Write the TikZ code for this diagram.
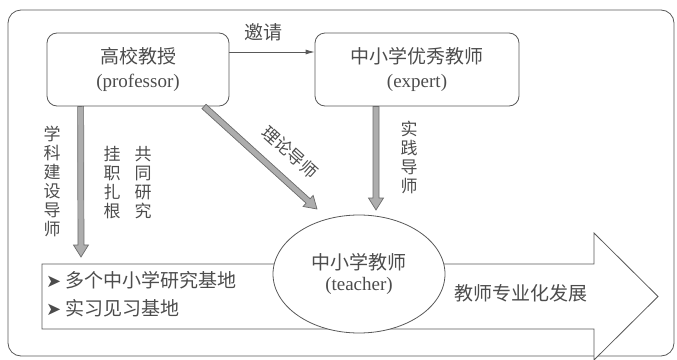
\documentclass[tikz,border=0pt]{standalone}
\usepackage{fontspec}
\setmainfont{Liberation Serif}
\newfontfamily\cjk{Noto Sans CJK SC}
\newfontfamily\symf{DejaVu Sans}
\usetikzlibrary{calc,shapes.geometric,arrows.meta}
\definecolor{txt}{gray}{0.3}
\definecolor{ln}{gray}{0.35}
\definecolor{gfill}{gray}{0.68}
\definecolor{gline}{gray}{0.42}
\tikzset{
  box/.style={draw=ln, line width=0.8pt, rounded corners=10pt, minimum width=#1,
    minimum height=73pt, align=center, text=txt, inner sep=0pt,
    font=\fontsize{19}{24}\selectfont},
  vtext/.style={text=txt, align=center, inner sep=0pt, font=\cjk\fontsize{17}{19}\selectfont},
  htext/.style={text=txt, inner sep=0pt, font=\cjk\fontsize{19}{23}\selectfont},
  thinline/.style={draw=ln, line width=0.8pt},
  garrowstyle/.style={fill=gfill, draw=gline, line width=0.7pt, line join=miter},
}
\newcommand\garrow[2]{%
  \coordinate (ga-h) at ($(#2)!12pt!(#1)$);
  \filldraw[garrowstyle] ($(#1)!3pt!90:(#2)$) -- ($(ga-h)!3pt!-90:(#1)$)
    -- ($(ga-h)!7.5pt!-90:(#1)$) -- (#2) -- ($(ga-h)!7.5pt!90:(#1)$)
    -- ($(ga-h)!3pt!90:(#1)$) -- ($(#1)!3pt!-90:(#2)$) -- cycle;
}
\begin{document}
\begin{tikzpicture}[x=1pt,y=-1pt]
\useasboundingbox (0,0) rectangle (677,359);
% outer frame
\draw[thinline, rounded corners=13pt] (8,10) rectangle (674,356);
% big arrow
\coordinate (bA) at (42,264);
\coordinate (bB) at (594,264);
\coordinate (bC) at (594,233);
\coordinate (bTip) at (658,296.5);
\coordinate (bD) at (594,360);
\coordinate (bE) at (594,329);
\coordinate (bF) at (42,329);
\draw[thinline, fill=white, line join=miter] (bA) -- (bB) -- (bC) -- (bTip) -- (bD) -- (bE) -- (bF) -- cycle;
% ellipse
\node[ellipse, draw=ln, line width=0.8pt, fill=white, minimum width=172pt, minimum height=118pt,
  inner sep=0pt, align=center, text=txt, font=\fontsize{19}{22}\selectfont] (teacher) at (359,274)
  {\cjk 中小学教师\\[-1pt]\rmfamily (teacher)};
% boxes
\node[box=182pt] (prof) at (138,69.5) {\cjk 高校教授\\\rmfamily (professor)};
\node[box=204pt] (expert) at (417,69.5) {\cjk 中小学优秀教师\\\rmfamily (expert)};
% invite arrow
\coordinate (inv) at (0,52);
\draw[thinline, -{Latex[length=9pt,width=5pt]}] (prof.east |- inv) -- (expert.west |- inv);
\node[htext] (invlab) at (263,32) {邀请};
% gray arrows
\coordinate (p1) at ($(prof.south west)+(34,0)$);
\coordinate (p1e) at (81,257);
\garrow{p1}{p1e}
\coordinate (p2) at (204,106.5);
\coordinate (p2e) at (317,209);
\garrow{p2}{p2e}
\coordinate (e1) at (expert.south -| 376,0);
\coordinate (e1e) at (376,210);
\garrow{e1}{e1e}
% vertical labels
\node[vtext] (l1) at (52,181) {学\\科\\建\\设\\导\\师};
\node[vtext] (l2) at (112,182.5) {挂\\职\\扎\\根};
\node[vtext] (l3) at (143,182.5) {共\\同\\研\\究};
\node[vtext] (l4) at (409,157.5) {实\\践\\导\\师};
\node[htext, font=\cjk\fontsize{17}{20}\selectfont, rotate=-42] (l5) at (290,152) {理论导师};
% bullets
\node[htext, anchor=west] (b1) at (46,280) {{\symf\fontsize{18}{18}\selectfont\color{black!70}➤}\hspace{4pt}多个中小学研究基地};
\node[htext, anchor=west] (b2) at (46,308) {{\symf\fontsize{18}{18}\selectfont\color{black!70}➤}\hspace{4pt}实习见习基地};
\node[htext] (dev) at (521,293) {教师专业化发展};
\end{tikzpicture}
\end{document}
